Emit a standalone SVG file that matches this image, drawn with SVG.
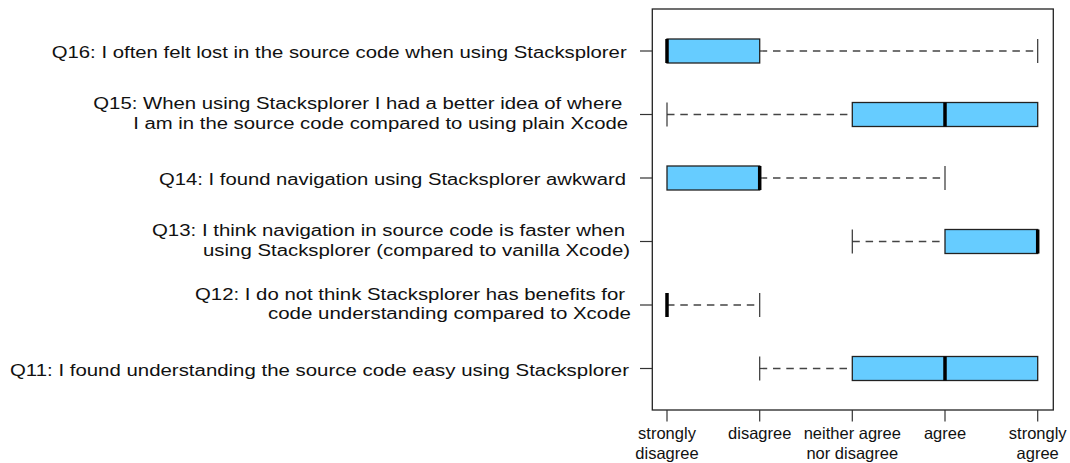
<svg xmlns="http://www.w3.org/2000/svg" width="1070" height="463" viewBox="0 0 1070 463">
<style>
.lbl{font-family:"Liberation Sans",Arial,Helvetica,sans-serif;font-size:17.3px;fill:#111;text-anchor:end}
.ax{font-family:"Liberation Sans",Arial,Helvetica,sans-serif;font-size:16.5px;fill:#111;text-anchor:middle}
.box{fill:#66CCFF;stroke:#222;stroke-width:1.3}
.med{stroke:#000;stroke-width:3.5}
.wh{stroke:#444;stroke-width:1.3;stroke-dasharray:7.5 5.8;fill:none}
.cap{stroke:#333;stroke-width:1.2}
.frame{fill:none;stroke:#222;stroke-width:1.3}
.tick{stroke:#333;stroke-width:1.2}
</style>
<rect width="1070" height="463" fill="#fff"/>
<g id="axes">
<rect class="frame" x="652.3" y="9" width="401" height="401"/>
<line class="tick" x1="667" y1="410" x2="667" y2="421.5"/>
<line class="tick" x1="759.7" y1="410" x2="759.7" y2="421.5"/>
<line class="tick" x1="852.3" y1="410" x2="852.3" y2="421.5"/>
<line class="tick" x1="945" y1="410" x2="945" y2="421.5"/>
<line class="tick" x1="1037.7" y1="410" x2="1037.7" y2="421.5"/>
<line class="tick" x1="640" y1="51" x2="652.3" y2="51"/>
<line class="tick" x1="640" y1="114.5" x2="652.3" y2="114.5"/>
<line class="tick" x1="640" y1="178" x2="652.3" y2="178"/>
<line class="tick" x1="640" y1="241.5" x2="652.3" y2="241.5"/>
<line class="tick" x1="640" y1="305" x2="652.3" y2="305"/>
<line class="tick" x1="640" y1="368.5" x2="652.3" y2="368.5"/>
<text class="ax" x="667" y="438.5">strongly</text>
<text class="ax" x="667" y="458.5">disagree</text>
<text class="ax" x="759.7" y="438.5">disagree</text>
<text class="ax" x="852.3" y="438.5">neither agree</text>
<text class="ax" x="852.3" y="458.5">nor disagree</text>
<text class="ax" x="945" y="438.5">agree</text>
<text class="ax" x="1037.7" y="438.5">strongly</text>
<text class="ax" x="1037.7" y="458.5">agree</text>
</g>
<g id="connectors">
<line class="wh" x1="759.7" y1="51" x2="1037.7" y2="51"/>
<line class="wh" x1="667" y1="114.5" x2="852.3" y2="114.5"/>
<line class="wh" x1="759.7" y1="178" x2="945" y2="178"/>
<line class="wh" x1="852.3" y1="241.5" x2="945" y2="241.5"/>
<line class="wh" x1="667" y1="305" x2="759.7" y2="305"/>
<line class="wh" x1="759.7" y1="368.5" x2="852.3" y2="368.5"/>
<line class="cap" x1="1037.7" y1="39" x2="1037.7" y2="63"/>
<line class="cap" x1="667" y1="102.5" x2="667" y2="126.5"/>
<line class="cap" x1="945" y1="166" x2="945" y2="190"/>
<line class="cap" x1="852.3" y1="229.5" x2="852.3" y2="253.5"/>
<line class="cap" x1="759.7" y1="293" x2="759.7" y2="317"/>
<line class="cap" x1="759.7" y1="356.5" x2="759.7" y2="380.5"/>
</g>
<g id="q16">
<text class="lbl" x="626.7" y="58" textLength="575" lengthAdjust="spacingAndGlyphs">Q16: I often felt lost in the source code when using Stacksplorer</text>
<rect class="box" x="667" y="39" width="92.7" height="24"/>
<line class="med" x1="667" y1="39" x2="667" y2="63"/>
</g>
<g id="q15">
<text class="lbl" x="622.3" y="109" textLength="529" lengthAdjust="spacingAndGlyphs">Q15: When using Stacksplorer I had a better idea of where</text>
<text class="lbl" x="628" y="128.5" textLength="494.7" lengthAdjust="spacingAndGlyphs">I am in the source code compared to using plain Xcode</text>
<rect class="box" x="852.3" y="102.5" width="185.4" height="24"/>
<line class="med" x1="945" y1="102.5" x2="945" y2="126.5"/>
</g>
<g id="q14">
<text class="lbl" x="626" y="185" textLength="467" lengthAdjust="spacingAndGlyphs">Q14: I found navigation using Stacksplorer awkward</text>
<rect class="box" x="667" y="166" width="92.7" height="24"/>
<line class="med" x1="759.7" y1="166" x2="759.7" y2="190"/>
</g>
<g id="q13">
<text class="lbl" x="625" y="236" textLength="473" lengthAdjust="spacingAndGlyphs">Q13: I think navigation in source code is faster when</text>
<text class="lbl" x="630" y="255.5" textLength="427" lengthAdjust="spacingAndGlyphs">using Stacksplorer (compared to vanilla Xcode)</text>
<rect class="box" x="945" y="229.5" width="92.7" height="24"/>
<line class="med" x1="1037.7" y1="229.5" x2="1037.7" y2="253.5"/>
</g>
<g id="q12">
<text class="lbl" x="625" y="299.5" textLength="430" lengthAdjust="spacingAndGlyphs">Q12: I do not think Stacksplorer has benefits for</text>
<text class="lbl" x="631" y="319" textLength="363" lengthAdjust="spacingAndGlyphs">code understanding compared to Xcode</text>
<line class="med" x1="667" y1="293" x2="667" y2="317"/>
</g>
<g id="q11">
<text class="lbl" x="629" y="375.5" textLength="619" lengthAdjust="spacingAndGlyphs">Q11: I found understanding the source code easy using Stacksplorer</text>
<rect class="box" x="852.3" y="356.5" width="185.4" height="24"/>
<line class="med" x1="945" y1="356.5" x2="945" y2="380.5"/>
</g>
</svg>
